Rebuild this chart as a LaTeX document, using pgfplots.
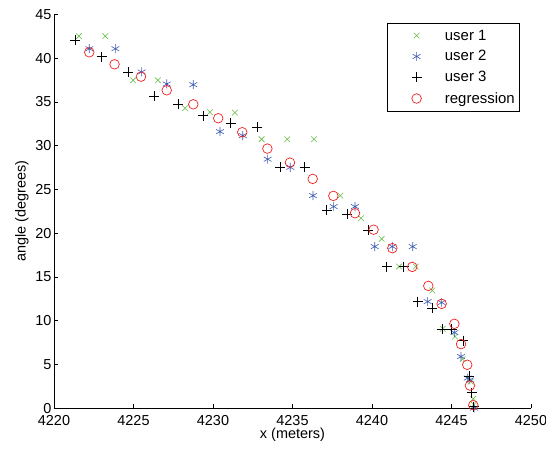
\documentclass[border=0pt]{standalone}
\usepackage{pgfplots}
\pgfplotsset{compat=1.18}
\usepackage{fontspec}
\setmainfont{Liberation Sans}
\usetikzlibrary{plotmarks}
\definecolor{ugreen}{RGB}{100,190,70}
\definecolor{ublue}{RGB}{60,90,180}
\definecolor{ured}{RGB}{240,30,30}
\pgfplotsset{myleg/.style={legend image code/.code={\path (0bp,0bp) (52bp,0bp); \draw[##1] plot coordinates {(26bp,0bp)};}}}
\begin{document}
\begin{tikzpicture}
\begin{axis}[
  scale only axis,
  width=477bp, height=394bp,
  xmin=4220, xmax=4250, ymin=0, ymax=45,
  xtick={4220,4225,...,4250}, ytick={0,5,...,45},
  axis x line*=bottom, axis y line*=left,
  tick align=inside, major tick length=4bp,
  tick style={black, line width=0.5pt},
  axis line style={black, line width=0.6pt},
  font=\fontsize{14.5}{17}\selectfont,
  ticklabel style={font=\fontsize{14.5}{17}\selectfont},
  /pgf/number format/assume math mode=true,
  /pgf/number format/1000 sep={},
  xticklabel style={yshift=-3.5bp},
  yticklabel style={xshift=1bp},
  xlabel={x (meters)}, ylabel={angle (degrees)},
  xlabel style={yshift=4bp}, ylabel style={yshift=0bp},
  legend style={at={(rel axis cs:0.698,0.978)}, anchor=north west,
    draw=black, line width=0.6pt, font=\fontsize{15}{17.5}\selectfont,
    inner xsep=3bp, inner ysep=4.5bp, row sep=5bp,
    cells={anchor=west}},
  legend cell align=left,
  clip=false,
]
\coordinate (sw) at (rel axis cs:0,0);
\coordinate (ne) at (rel axis cs:1,1);
\addplot[only marks, myleg, mark=x, mark size=4bp, color=ugreen, line width=0.6pt] coordinates {
(4221.57,42.5) (4223.23,42.5) (4224.97,37.46) (4226.54,37.46) (4228.24,34.27)
(4229.81,33.81) (4231.38,33.77) (4233.06,30.73) (4234.67,30.73) (4236.35,30.73)
(4238.01,24.29) (4239.31,21.71) (4240.61,19.35) (4241.7,16.19) (4242.75,16.19)
(4243.79,13.45) (4244.45,9.08) (4245.22,8.2) (4245.7,5.61) (4246.2,3.06)
(4246.37,1.08) (4246.4,0.4)
};
\addlegendentry{user 1}
\addplot[only marks, myleg, mark=asterisk, mark size=4.5bp, color=ublue, line width=0.6pt] coordinates {
(4222.22,41.07) (4223.86,41.07) (4225.51,38.41) (4227.09,37.04) (4228.76,36.96)
(4230.44,31.6) (4231.87,31.14) (4233.44,28.45) (4234.86,27.53) (4236.29,24.29)
(4237.59,23.04) (4238.93,23.04) (4240.17,18.47) (4241.28,18.47) (4242.56,18.47)
(4243.5,12.19) (4244.38,12.08) (4245.18,8.65) (4245.6,5.91) (4246.02,3.45)
(4246.16,3.25) (4246.42,0.02)
};
\addlegendentry{user 2}
\addplot[only marks, myleg, mark=+, mark size=5bp, color=black, line width=0.6pt] coordinates {
(4221.32,42.03) (4223.0,40.16) (4224.67,38.38) (4226.29,35.64) (4227.82,34.72)
(4229.39,33.42) (4231.11,32.56) (4232.79,32.1) (4234.21,27.53) (4235.77,27.53)
(4237.15,22.66) (4238.45,22.2) (4239.77,20.38) (4240.92,16.19) (4241.99,16.19)
(4242.87,12.19) (4243.79,11.44) (4244.4,9.08) (4245.01,9.08) (4245.74,7.74)
(4246.12,3.71) (4246.27,1.8) (4246.4,0.2)
};
\addlegendentry{user 3}
\addplot[only marks, myleg, mark=o, mark size=4.8bp, color=ured, line width=0.7pt] coordinates {
(4222.22,40.66) (4223.81,39.29) (4225.47,37.88) (4227.09,36.32) (4228.76,34.72)
(4230.33,33.13) (4231.84,31.53) (4233.42,29.66) (4234.84,28.06) (4236.27,26.2)
(4237.57,24.26) (4238.93,22.28) (4240.1,20.4) (4241.28,18.29) (4242.53,16.15)
(4243.54,13.98) (4244.38,11.93) (4245.18,9.65) (4245.6,7.33) (4245.99,4.97)
(4246.16,2.6) (4246.37,0.35)
};
\addlegendentry{regression}
\end{axis}
\pgfresetboundingbox
\path ([xshift=-54bp,yshift=-47.5bp]sw) rectangle ([xshift=15bp,yshift=14.3bp]ne);
\end{tikzpicture}
\end{document}
